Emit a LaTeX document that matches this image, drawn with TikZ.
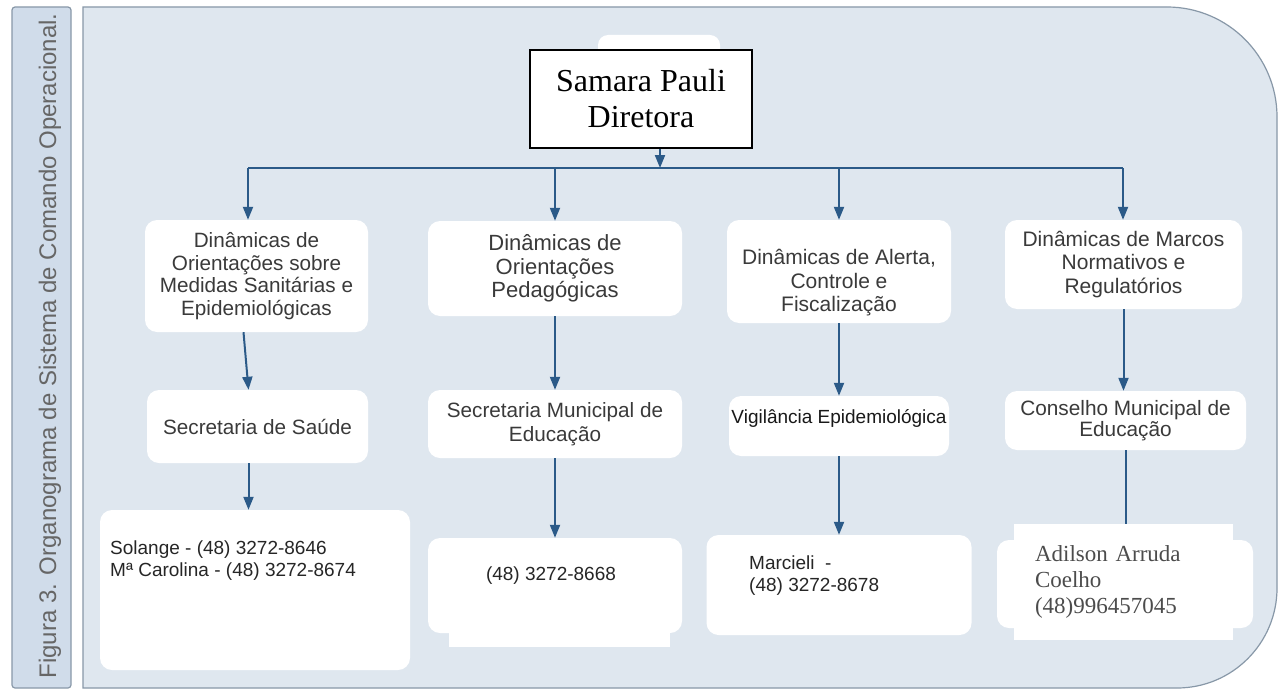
\documentclass[tikz,border=0pt]{standalone}
\usepackage{fontspec}
\setmainfont{Liberation Serif}
\setsansfont{Liberation Sans}
\usetikzlibrary{arrows.meta}
\definecolor{fundo}{HTML}{DFE7EF}
\definecolor{lateral}{HTML}{D0DCEA}
\definecolor{borda}{HTML}{8898A8}
\definecolor{azul}{HTML}{2B5A88}
\definecolor{escrita}{HTML}{3A3A3A}
\tikzset{
  caixa/.style={fill=white, rounded corners=12pt, inner sep=0pt, align=center,
    text=escrita, font=\sffamily\fontsize{21}{23.5}\selectfont},
  seta/.style={draw=azul, line width=2pt, -{Triangle[width=10pt,length=13pt]}},
  fone/.style={inner sep=0pt, align=left, text=black!85,
    font=\sffamily\fontsize{19}{22}\selectfont},
}
\begin{document}
\begin{tikzpicture}[x=1pt,y=-1pt]
\useasboundingbox (0,0) rectangle (1281,693);
\fill[white] (0,0) rectangle (1281,693);
% painel lateral
\draw[borda, fill=lateral, line width=1.2pt, rounded corners=3pt] (12,7) rectangle (71,688);
\node[rotate=90, text=black!60, font=\sffamily\fontsize{24}{24}\selectfont] (legenda) at (50,346)
  {Figura 3. Organograma de Sistema de Comando Operacional.};
% painel principal
\draw[borda, fill=fundo, line width=1.2pt] (83,300) -- (83,7)
  [rounded corners=110pt] -- (1277,7) [rounded corners=100pt] -- (1277,688)
  [sharp corners] -- (83,688) -- cycle;
% diretora
\fill[white, rounded corners=10pt] (598,35) rectangle (720,100);
\node[draw=black, fill=white, line width=1.5pt, minimum width=222pt, minimum height=98pt,
  inner sep=0pt, align=center, font=\fontsize{32}{36}\selectfont] (sam) at (641,99)
  {Samara Pauli\\Diretora};
% primeiro nivel
\node[caixa, minimum width=223pt, minimum height=112pt,
  font=\sffamily\fontsize{20.7}{22.5}\selectfont] (b1) at (256.5,276)
  {Dinâmicas de\\Orientações sobre\\Medidas Sanitárias e\\Epidemiológicas};
\node[caixa, minimum width=254pt, minimum height=95pt,
  font=\sffamily\fontsize{22}{23.5}\selectfont] (b2) at (555,268.5)
  {Dinâmicas de\\Orientações\\Pedagógicas};
\node[caixa, minimum width=224pt, minimum height=103pt] (b3) at (839,271.5)
  {\rule{0pt}{38pt}Dinâmicas de Alerta,\\Controle e\\Fiscalização};
\node[caixa, minimum width=237pt, minimum height=89pt] (b4) at (1123.5,264.5)
  {Dinâmicas de Marcos\\Normativos e\\Regulatórios};
% segundo nivel
\node[caixa, minimum width=221pt, minimum height=73pt,
  font=\sffamily\fontsize{20.7}{24}\selectfont] (c1) at (257.5,426.5) {Secretaria de Saúde};
\node[caixa, minimum width=254pt, minimum height=68pt,
  font=\sffamily\fontsize{20.7}{24}\selectfont] (c2) at (555,424)
  {Secretaria Municipal de\\Educação};
\node[caixa, minimum width=220pt, minimum height=60pt, text=black!90,
  font=\sffamily\fontsize{19}{22}\selectfont] (c3) at (839,426)
  {Vigilância Epidemiológica\rule[-20pt]{0pt}{0pt}};
\node[caixa, minimum width=241pt, minimum height=59pt,
  font=\sffamily\fontsize{20.8}{21}\selectfont] (c4) at (1125.5,420.5)
  {Conselho Municipal de\\Educação};
% terceiro nivel
\node[caixa, minimum width=310pt, minimum height=160pt] (d1) at (255,590) {};
\node[caixa, minimum width=254pt, minimum height=95pt] (d2) at (555,585.5) {};
\fill[white] (449,600) rectangle (670,647);
\node[caixa, minimum width=265pt, minimum height=100pt] (d3) at (839,585) {};
\node[caixa, minimum width=256pt, minimum height=88pt] (d4) at (1125,584) {};
% setas
\coordinate (topo) at (660,168);
\coordinate (k1) at (248,168);
\coordinate (k2) at (555,168);
\coordinate (k3) at (839,168);
\coordinate (k4) at (1123,168);
\draw[seta] (sam.south -| topo) -- (topo);
\draw[azul, line width=2pt] (k1) -- (k4);
\foreach \n in {1,...,4}
  \draw[seta] (k\n) -- (k\n |- b\n.north);
\draw[seta] ([xshift=-13pt]b1.south) -- ([xshift=-9pt]c1.north);
\draw[seta] (b2) -- (c2);
\draw[seta] (b3) -- (c3);
\draw[seta] (b4.south) -- (b4.south |- c4.north);
\draw[seta] ([xshift=-9pt]c1.south) -- ([xshift=-9pt]c1.south |- d1.north);
\draw[seta] (c2) -- (d2);
\draw[seta] (c3) -- (d3);
\draw[seta] (c4.south) -- (c4.south |- d4.north);
% contatos
\node[fill=white, minimum width=219pt, minimum height=116pt, inner xsep=21pt, inner ysep=0pt,
  text width=177pt, align=left, text=black!70, font=\fontsize{23}{26}\selectfont]
  (placa) at (1123.5,582) {Adilson Arruda\\Coelho\\(48)996457045};
\node[fone, anchor=west] (t1) at (110,561)
  {Solange - (48) 3272-8646\\Mª Carolina - (48) 3272-8674};
\node[fone] (t2) at (551,576) {(48) 3272-8668};
\node[fone, anchor=west] (t3) at (749,575.5) {Marcieli\ \ -\\(48) 3272-8678};
\end{tikzpicture}
\end{document}
